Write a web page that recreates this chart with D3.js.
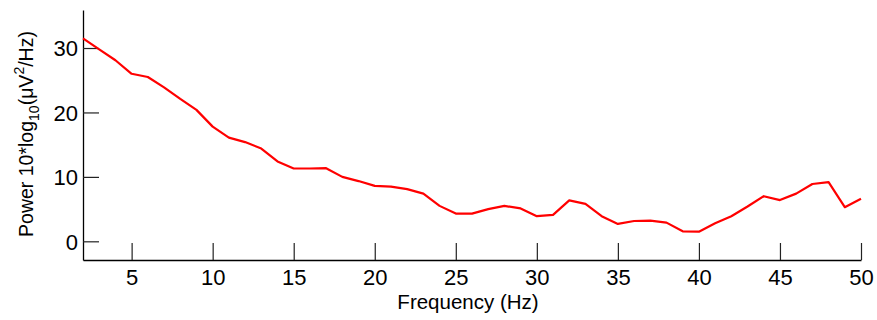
<!DOCTYPE html>
<html>
<head>
<meta charset="utf-8">
<script src="https://cdn.jsdelivr.net/npm/d3@7"></script>
<style>
  body { margin: 0; background: #fff; }
  svg text { font-family: Arial, "Liberation Sans", sans-serif; fill: #000; }
</style>
</head>
<body>
<div id="chart"></div>
<script>
// frequency bins (Hz) and spectral power (10*log10 uV^2/Hz)
var freqs = [2, 3, 4, 5, 6, 7, 8, 9, 10, 11, 12, 13, 14, 15, 16, 17, 18, 19, 20, 21, 22, 23, 24, 25, 26,
  27, 28, 29, 30, 31, 32, 33, 34, 35, 36, 37, 38, 39, 40, 41, 42, 43, 44, 45, 46, 47, 48, 49, 50];
var power = [31.5, 29.8, 28.1, 26.0, 25.5, 23.9, 22.1, 20.4, 17.8, 16.1, 15.4, 14.4, 12.4, 11.3, 11.3,
  11.35, 10.0, 9.35, 8.6, 8.5, 8.1, 7.4, 5.5, 4.3, 4.3, 5.0, 5.5, 5.1, 3.9, 4.1, 6.35, 5.8, 3.9, 2.7,
  3.15, 3.2, 2.9, 1.55, 1.5, 2.8, 3.9, 5.4, 7.0, 6.4, 7.4, 8.9, 9.2, 5.3, 6.6];
var xTicks = [5, 10, 15, 20, 25, 30, 35, 40, 45, 50];
var yTicks = [0, 10, 20, 30];

var margin = {top: 10, right: 16, bottom: 60, left: 83},
    width = 861 - margin.left,
    height = 260 - margin.top;

var x = d3.scaleLinear()
    .domain([2, 50])
    .range([0, width]);

var y = d3.scaleLinear()
    .domain([-2.9, 35.9])
    .range([height, 0]);

var svg = d3.select("#chart").append("svg")
    .attr("width", 877)
    .attr("height", 320)
    .append("g")
    .attr("transform", "translate(" + margin.left + "," + margin.top + ")");

// ticks point inward like matlab
var xAxis = d3.axisBottom(x)
    .tickValues(xTicks)
    .tickSizeInner(-17)
    .tickSizeOuter(0)
    .tickPadding(9);

var yAxis = d3.axisLeft(y)
    .tickValues(yTicks)
    .tickSizeInner(-16)
    .tickSizeOuter(0)
    .tickPadding(5);

var gx = svg.append("g")
    .attr("class", "x-axis")
    .attr("transform", "translate(0," + height + ")")
    .call(xAxis);

var gy = svg.append("g")
    .attr("class", "y-axis")
    .call(yAxis);

[gx, gy].forEach(function(g) {
  g.select(".domain").attr("stroke", "#000").attr("stroke-width", 1.3);
  g.selectAll(".tick line").attr("stroke", "#222").attr("stroke-width", 1.2);
  g.selectAll(".tick text")
    .attr("font-size", "22px")
    .attr("font-family", "Arial, 'Liberation Sans', sans-serif");
});

gx.selectAll(".tick text").attr("dy", "0.71em");
gy.selectAll(".tick text").attr("dy", "0.36em");

// x label
svg.append("text")
    .attr("x", 468 - margin.left)
    .attr("y", 309 - margin.top)
    .style("text-anchor", "middle")
    .attr("font-size", "20.5px")
    .text("Frequency (Hz)");

// y label with sub/superscript
var yl = svg.append("text")
    .attr("transform", "translate(" + (33 - margin.left) + "," + (134 - margin.top) + ") rotate(-90)")
    .style("text-anchor", "middle")
    .attr("font-size", "19.5px");
yl.append("tspan").text("Power 10*log");
yl.append("tspan").attr("font-size", "14px").attr("dy", 6).text("10");
yl.append("tspan").attr("dy", -6).text("(\u03bcV");
yl.append("tspan").attr("font-size", "14px").attr("dy", -9).text("2");
yl.append("tspan").attr("dy", 9).text("/Hz)");

var line = d3.line()
    .x(function(d, i) { return x(freqs[i]); })
    .y(function(d) { return y(d); });

svg.append("path")
    .datum(power)
    .attr("fill", "none")
    .attr("stroke", "#ff0000")
    .attr("stroke-width", 2.2)
    .attr("stroke-linejoin", "round")
    .attr("d", line);
</script>
</body>
</html>
